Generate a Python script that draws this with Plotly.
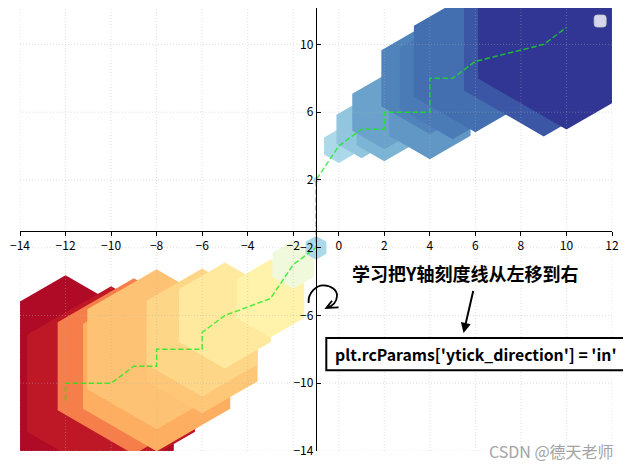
import plotly.graph_objects as go

# ---- data ----
x_vals = [-12, -12, -10, -9, -8, -8, -6, -6, -5, -3, -2, -1, -1, 0, 1, 2, 2, 4, 4, 5, 6, 9, 10]
y_vals = [-11, -10, -10, -9, -9, -8, -8, -7, -6, -5, -3, -2, 2, 4, 5, 5, 6, 6, 8, 8, 9, 10, 11]
marker_sizes = [250, 80, 194, 176, 170, 160, 128, 128, 106, 78, 48, 24, 6, 34, 58, 64, 74, 94, 112, 122, 142, 184, 204]
color_values = [0.02, 0.04, 0.05, 0.226, 0.30, 0.34, 0.35, 0.38, 0.43, 0.46, 0.55, 0.70, 0.70,
                0.70, 0.745, 0.785, 0.82, 0.84, 0.875, 0.89, 0.91, 0.95, 1.0]

x_ticks = list(range(-14, 13, 2))
y_ticks = list(range(-14, 11, 4))
x_range = [-14, 12]
y_range = [-14, 12.15]
spine_pos = -1  # both spines placed at data value -1

title_text = "学习把Y轴刻度线从左移到右"
code_text = "plt.rcParams['ytick_direction'] = 'in'"
watermark = "CSDN @德天老师"

rdylbu = ['rgb(165,0,38)', 'rgb(215,48,39)', 'rgb(244,109,67)', 'rgb(253,174,97)',
          'rgb(254,224,144)', 'rgb(255,255,191)', 'rgb(224,243,248)', 'rgb(171,217,233)',
          'rgb(116,173,209)', 'rgb(69,117,180)', 'rgb(49,54,149)']
colorscale = [[i / 10, c] for i, c in enumerate(rdylbu)]

fig = go.Figure()

# hexagon scatter
fig.add_trace(go.Scatter(
    x=x_vals, y=y_vals, mode='markers',
    marker=dict(symbol='hexagon', size=marker_sizes, color=color_values,
                colorscale=colorscale, cmin=0, cmax=1, opacity=1,
                line=dict(width=0)),
    hoverinfo='skip', showlegend=False))

# grid (drawn above the hexagons, below the line, like matplotlib)
gx, gy = [], []
for t in x_ticks:
    gx += [t, t, None]
    gy += [y_range[0], y_range[1], None]
for t in y_ticks:
    gx += [x_range[0], x_range[1], None]
    gy += [t, t, None]
fig.add_trace(go.Scatter(x=gx, y=gy, mode='lines',
                         line=dict(color='rgba(175,175,175,0.5)', width=0.8, dash='1px,2px'),
                         hoverinfo='skip', showlegend=False))

# dashed line
fig.add_trace(go.Scatter(x=x_vals, y=y_vals, mode='lines',
                         line=dict(color='rgba(20,235,20,0.75)', width=1.5, dash='5.5px,2.5px'),
                         hoverinfo='skip', showlegend=False))

pos_x = (spine_pos - y_range[0]) / (y_range[1] - y_range[0])
pos_y = (spine_pos - x_range[0]) / (x_range[1] - x_range[0])

tickfont = dict(family='Noto Sans CJK SC', size=12, color='black')
fig.update_layout(
    width=631, height=469,
    margin=dict(l=11.7, r=27.3, t=0, b=26.3, pad=0),
    paper_bgcolor='white', plot_bgcolor='white',
    showlegend=False,
    xaxis=dict(range=x_range, tickvals=x_ticks, showgrid=False, zeroline=False,
               showline=True, linecolor='black', linewidth=1.3,
               ticks='outside', ticklen=4, tickwidth=1, tickcolor='black',
               anchor='free', position=pos_x, layer='above traces', tickfont=tickfont),
    yaxis=dict(range=y_range, tickvals=y_ticks, showgrid=False, zeroline=False,
               showline=True, linecolor='black', linewidth=1.3,
               ticks='inside', ticklen=4, tickwidth=1, tickcolor='black',
               anchor='free', position=pos_y, layer='above traces', tickfont=tickfont),
)

# empty legend frame (top right)
fig.add_shape(type='path', xref='paper', yref='paper', xsizemode='pixel', ysizemode='pixel',
              xanchor=0.980, yanchor=0.9706,
              path='M-3,6 L3,6 Q6,6 6,3 L6,-3 Q6,-6 3,-6 L-3,-6 Q-6,-6 -6,-3 L-6,3 Q-6,6 -3,6 Z',
              fillcolor='rgba(255,255,255,0.8)', line=dict(color='rgba(200,200,200,0.8)', width=1))

# curly arrow glyph
fig.add_shape(type='path', xref='x', yref='y', xsizemode='pixel', ysizemode='pixel',
              xanchor=-0.68, yanchor=-4.85,
              path='M-14.7,-7 C-15.5,4 -6,11 0.3,10.7 C8,10.5 14,6 13.7,0 C13.5,-6 9,-10 3.5,-12 '
                   'M8.7,-4.7 L3,-12 L15.3,-11.3',
              line=dict(color='black', width=1.8))

# code box
fig.add_shape(type='rect', xref='paper', yref='paper', x0=0.5174, x1=1.0225, y0=0.1823, y1=0.2553,
              fillcolor='white', line=dict(color='black', width=2), layer='above')

fig.add_annotation(xref='paper', yref='paper', x=0.752, y=0.4007, text='<b>' + title_text + '</b>',
                   xanchor='center', yanchor='middle',
                   showarrow=False, font=dict(family='Noto Sans CJK SC', size=18, color='black'))

fig.add_annotation(xref='paper', yref='paper', x=0.7705, y=0.2188, text='<b>' + code_text + '</b>',
                   xanchor='center', yanchor='middle',
                   showarrow=False, font=dict(family='Noto Sans CJK SC', size=15.8, color='black'))

fig.add_annotation(x=5.48, y=-7.03, ax=5.92, ay=-4.47, axref='x', ayref='y', xref='x', yref='y',
                   text='', showarrow=True, arrowhead=2, arrowsize=1, arrowwidth=2, arrowcolor='black',
                   standoff=0, startstandoff=0)

fig.add_annotation(xref='paper', yref='paper', x=0.897, y=0.0, text=watermark, showarrow=False,
                   xanchor='center', yanchor='middle',
                   font=dict(family='Noto Sans CJK SC', size=16, color='#a3a3a3'))

fig.write_html('out.html')
